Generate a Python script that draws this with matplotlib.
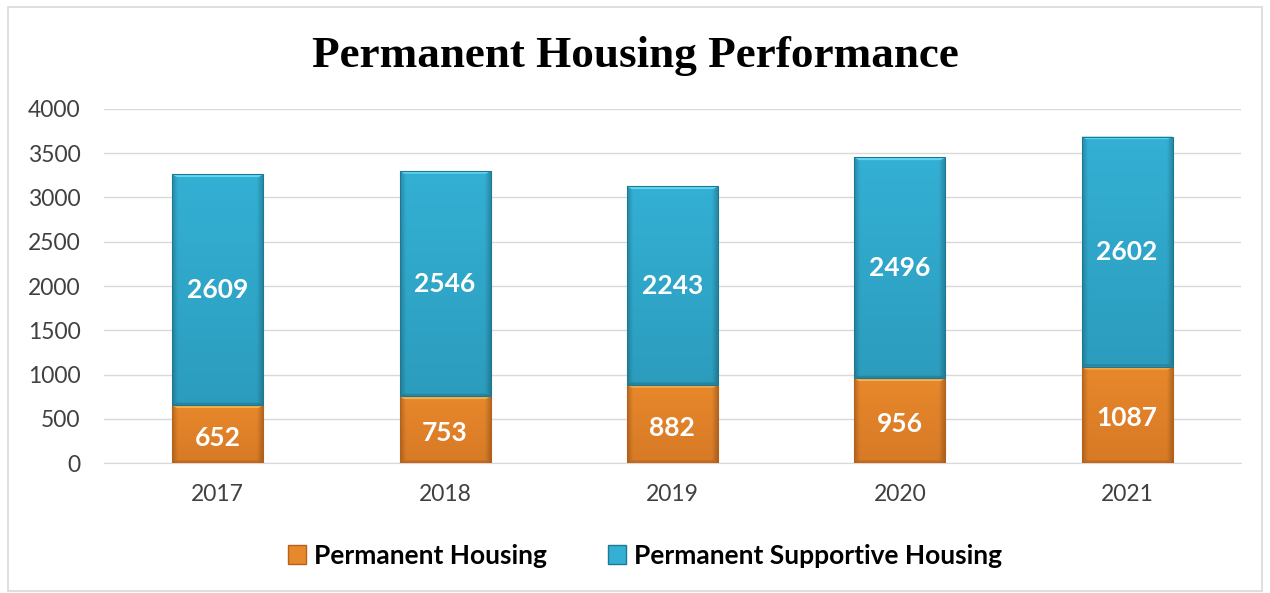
import matplotlib
matplotlib.use("Agg")
import matplotlib.pyplot as plt
import numpy as np
from matplotlib.patches import Rectangle, Patch

years = ["2017", "2018", "2019", "2020", "2021"]
permanent_housing = [652, 753, 882, 956, 1087]
supportive_housing = [2609, 2546, 2243, 2496, 2602]
series_names = ["Permanent Housing", "Permanent Supportive Housing"]
title = "Permanent Housing Performance"

fig = plt.figure(figsize=(12.7, 5.93), dpi=100)
ax = fig.add_axes([0.0819, 0.2192, 0.8951, 0.597])

# frame around figure
fig.patches.append(Rectangle((0.006, 0.004), 0.988, 0.985, transform=fig.transFigure,
                             fill=False, edgecolor="#D9D9D9", linewidth=1.2))

x = np.arange(len(years))
width = 0.40

def bevel_image(base, dark):
    n = 200
    yy = np.linspace(0, 1, n)[:, None]
    xx = np.linspace(0, 1, 60)[None, :]
    base = np.array(matplotlib.colors.to_rgb(base))
    dark = np.array(matplotlib.colors.to_rgb(dark))
    t = yy * np.ones_like(xx)
    w = 0.35 * (1 - t[..., None])
    img = dark * w + base * (1 - w)
    edge = np.minimum(xx, 1 - xx)
    shade = np.clip(edge / 0.06, 0, 1)
    img = img * (0.8 + 0.2 * shade[..., None])
    return np.clip(img, 0, 1)

def draw_bar(xc, bottom, height, base, dark, topcol):
    left = xc - width / 2
    img = bevel_image(base, dark)
    im = ax.imshow(img, extent=(left, left + width, bottom, bottom + height),
                   origin="lower", aspect="auto", zorder=3, interpolation="bilinear")
    rect = Rectangle((left, bottom), width, height, transform=ax.transData,
                     facecolor="none", edgecolor="none")
    ax.add_patch(rect)
    im.set_clip_path(rect)
    bev = 30
    ax.fill([left, left + width, left + width - 0.02, left + 0.02],
            [bottom + height, bottom + height, bottom + height - bev, bottom + height - bev],
            color=topcol, zorder=4, linewidth=0)
    ax.fill([left, left + width, left + width - 0.02, left + 0.02],
            [bottom, bottom, bottom + bev, bottom + bev],
            color=dark, zorder=4, linewidth=0, alpha=0.6)
    ax.add_patch(Rectangle((left, bottom), width, height, facecolor="none",
                           edgecolor=dark, linewidth=0.8, zorder=5))

orange = ("#E8882C", "#B8601A", "#F8B34A")
teal = ("#33B0D4", "#1F7893", "#62D6F0")

for i in range(len(years)):
    draw_bar(x[i], 0, permanent_housing[i], *orange)
    draw_bar(x[i], permanent_housing[i], supportive_housing[i], *teal)
    ax.text(x[i], permanent_housing[i] / 2 - 40, str(permanent_housing[i]), ha="center", va="center",
            color="white", fontsize=19, fontweight="bold", family="Lato", zorder=6)
    ax.text(x[i], permanent_housing[i] + supportive_housing[i] / 2, str(supportive_housing[i]),
            ha="center", va="center", color="white", fontsize=19, fontweight="bold",
            family="Lato", zorder=6)

ax.set_xlim(-0.5, len(years) - 0.5)
ax.set_ylim(0, 4000)
ax.set_yticks(np.arange(0, 4001, 500))
ax.set_xticks(x)
ax.set_xticklabels(years)
ax.yaxis.grid(True, color="#D9D9D9", linewidth=1.0, zorder=0)
ax.set_axisbelow(True)
for s in ["top", "right", "left"]:
    ax.spines[s].set_visible(False)
ax.spines["bottom"].set_color("#D9D9D9")
ax.tick_params(axis="both", length=0, labelsize=16.5, labelcolor="#404040")
ax.tick_params(axis="x", pad=15)
ax.tick_params(axis="y", pad=17)
for lab in ax.get_xticklabels() + ax.get_yticklabels():
    lab.set_family("Lato")

fig.text(0.5, 0.906, title, ha="center", va="center", fontsize=32.5, fontweight="bold",
         family="Liberation Serif")

handles = [Patch(facecolor=orange[0], edgecolor=orange[1]),
           Patch(facecolor=teal[0], edgecolor=teal[1])]
fig.legend(handles, series_names, loc="center", bbox_to_anchor=(0.508, 0.063),
           ncol=2, frameon=False, prop={"family": "Lato", "weight": "bold", "size": 19},
           handlelength=0.7, handleheight=0.7, handletextpad=0.3, columnspacing=2.3)

fig.savefig("out.png", dpi=100)
